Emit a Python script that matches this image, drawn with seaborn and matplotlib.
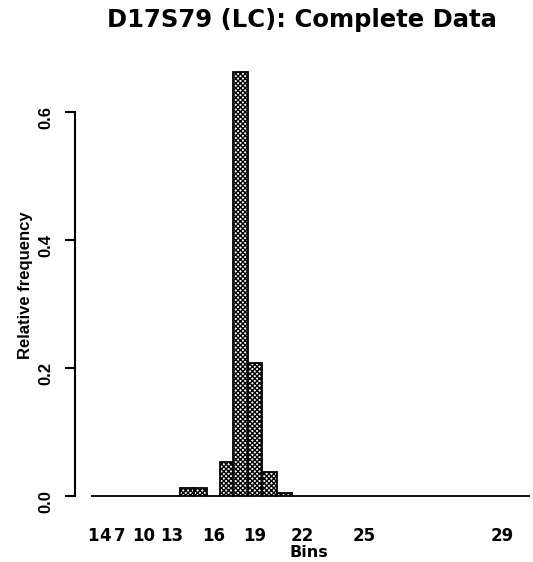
import numpy as np
import pandas as pd
import seaborn as sns
import matplotlib.pyplot as plt

# Bin numbers, bin boundaries (fragment-size scale, arbitrary units) and relative frequencies
bin_numbers = list(range(1, 30))
bin_edges = [0, 4, 8, 12, 16, 21, 26, 32, 40, 48, 57, 64, 72, 89, 103, 116,
             129, 142, 157, 171, 186, 201, 222, 240, 259, 287, 317, 349, 383, 439]
rel_freq = [0, 0, 0, 0, 0, 0, 0, 0, 0, 0, 0, 0, 0, 0.0125, 0.0125, 0,
            0.053, 0.6625, 0.208, 0.0375, 0.004, 0, 0, 0, 0, 0, 0, 0, 0]
labelled_bins = [1, 4, 7, 10, 13, 16, 19, 22, 25, 29]
y_ticks = [0.0, 0.2, 0.4, 0.6]
y_tick_labels = ["0.0", "0.2", "0.4", "0.6"]

edges = np.asarray(bin_edges, dtype=float)
centers = (edges[:-1] + edges[1:]) / 2
df = pd.DataFrame({"bin": bin_numbers, "center": centers, "freq": rel_freq})

sns.set_theme(style="white")
plt.rcParams.update({
    "hatch.linewidth": 1.0,
    "font.family": ["DejaVu Sans"],
    "text.color": "black",
    "axes.labelcolor": "black",
    "xtick.color": "black",
    "ytick.color": "black",
})

W, H = 533, 562
fig = plt.figure(figsize=(W / 100, H / 100), dpi=100)
ax = fig.add_axes([75 / W, 1 - 510 / H, 458 / W, 450 / H])

sns.histplot(data=df, x="center", weights="freq", bins=list(bin_edges), stat="count",
             color="white", edgecolor="black", linewidth=1.3, alpha=1,
             ax=ax, legend=False)
for p in ax.patches:
    p.set_hatch("xxxxxxx")

ax.set_xlim(-16, 442)
ax.set_ylim(-0.0219, 0.68125)

for s in ["top", "right", "bottom"]:
    ax.spines[s].set_visible(False)
ax.spines["left"].set_bounds(0, 0.6)
ax.spines["left"].set_linewidth(1.5)
ax.spines["left"].set_color("black")

tick_pos = [centers[b - 1] for b in labelled_bins]
ax.set_xticks(tick_pos)
ax.set_xticklabels([str(b) for b in labelled_bins], fontweight="bold", fontsize=12)
ax.tick_params(axis="x", length=0, pad=12.5)

ax.set_yticks(y_ticks)
ax.set_yticklabels(y_tick_labels, rotation=90, fontsize=12,
                   family=["Liberation Sans", "DejaVu Sans"], fontweight="bold")
ax.tick_params(axis="y", left=True, length=7.2, width=1.5, pad=8.6)

ax.set_xlabel("Bins", fontweight="bold", fontsize=11.5)
ax.xaxis.set_label_coords((309 - 75) / 458, (510 - 545) / 450)
ax.set_ylabel("Relative frequency", fontsize=12, fontweight="bold",
              family=["Liberation Sans Narrow", "Liberation Sans", "DejaVu Sans"])
ax.yaxis.set_label_coords((33 - 75) / 458, 0.5)

fig.text(302 / W, 1 - 20 / H, "D17S79 (LC): Complete Data", ha="center", va="center",
         fontsize=17.5, fontweight="bold")

fig.savefig("out.png", dpi=100)
